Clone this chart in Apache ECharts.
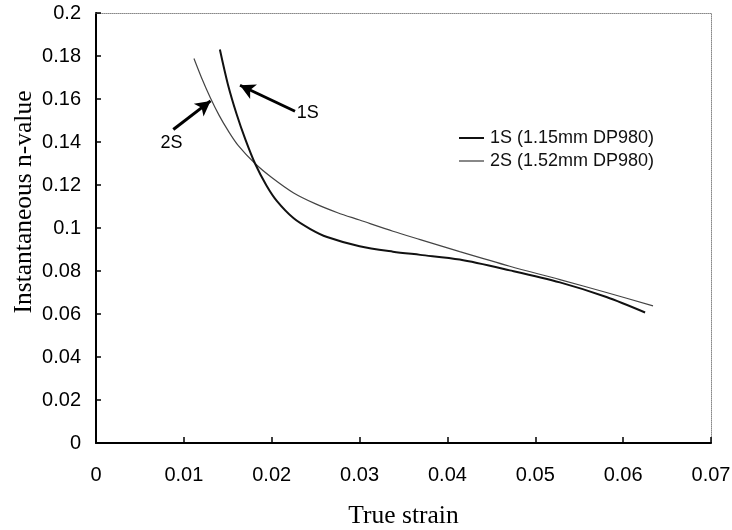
<!DOCTYPE html>
<html><head><meta charset="utf-8">
<script src="https://cdn.jsdelivr.net/npm/echarts@6/dist/echarts.min.js"></script>
<style>html,body{margin:0;padding:0;background:#fff}#c{width:732px;height:530px}</style>
</head><body><div id="c"></div>
<script>
const xTicks = [0, 0.01, 0.02, 0.03, 0.04, 0.05, 0.06, 0.07];
const yTicks = [0, 0.02, 0.04, 0.06, 0.08, 0.1, 0.12, 0.14, 0.16, 0.18, 0.2];
const xTitle = 'True strain';
const yTitle = 'Instantaneous n-value';
const name1S = "1S (1.15mm DP980)";
const name2S = "2S (1.52mm DP980)";
const strain1S = [0.0141, 0.0150, 0.0160, 0.0170, 0.0181, 0.0194, 0.0206, 0.0225, 0.0244, 0.0263, 0.0300, 0.0338, 0.0369, 0.0414, 0.0471, 0.0528, 0.0581, 0.0625];
const n1S      = [0.183,  0.167,  0.153,  0.1412, 0.1300, 0.1198, 0.1125, 0.1045, 0.0995, 0.0958, 0.0915, 0.0890, 0.0875, 0.0853, 0.0803, 0.0747, 0.0679, 0.0607];
const strain2S = [0.01115, 0.0120, 0.0130, 0.0140, 0.0150, 0.0162, 0.0181, 0.0200, 0.0225, 0.0250, 0.0275, 0.0300, 0.0338, 0.0369, 0.0414, 0.0471, 0.0528, 0.0581, 0.0634];
const n2S      = [0.1788,  0.1700, 0.1607, 0.1525, 0.1455, 0.1383, 0.1300, 0.1235, 0.1163, 0.1112, 0.1071, 0.1037, 0.0985, 0.0946, 0.0890, 0.0822, 0.0760, 0.0700, 0.0638];
// annotation arrows (data coordinates): [tailX, tailY, headX, headY]
const arrow1S = [0.02265, 0.1543, 0.01639, 0.1664];
const arrow2S = [0.0088, 0.1458, 0.01304, 0.1591];
const label1S = [0.0241, 0.1533];
const label2S = [0.0086, 0.1393];

const zip = (a, b) => a.map((v, i) => [v, b[i]]);
const fmt = v => String(+v.toFixed(4));
const sans = 'Liberation Sans, Arial, sans-serif';
const serif = 'Liberation Serif, Times New Roman, serif';

function arrowLine(a) {
  return {
    silent: true,
    symbol: ['none', 'arrow'],
    symbolSize: [12, 15],
    lineStyle: { color: '#000', width: 3, type: 'solid' },
    label: { show: false },
    emphasis: { disabled: true },
    data: [[{ coord: [a[0], a[1]] }, { coord: [a[2], a[3]] }]]
  };
}
function textPoint(p, t) {
  return {
    silent: true,
    symbol: 'circle', symbolSize: 0,
    label: { show: true, position: 'inside', formatter: t, color: '#000', fontFamily: sans, fontSize: 18 },
    data: [{ coord: p }]
  };
}

const chart = echarts.init(document.getElementById('c'), null, { renderer: 'canvas' });
chart.setOption({
  animation: false,
  backgroundColor: '#fff',
  grid: { left: 96, right: 21, top: 13, bottom: 87, containLabel: false, outerBoundsMode: 'none' },
  legend: {
    orient: 'vertical', left: 459, top: 129, padding: 0, itemGap: 5,
    itemWidth: 25, itemHeight: 2,
    textStyle: { fontFamily: sans, fontSize: 18, color: '#111', padding: [0, 0, 0, 1] },
    data: [
      { name: name1S, icon: 'rect', itemStyle: { color: '#111' } },
      { name: name2S, icon: 'rect', itemStyle: { color: '#888' } }
    ]
  },
  graphic: [{
    type: 'text', x: 24, y: 202, rotation: Math.PI / 2, silent: true,
    style: { text: yTitle, fontFamily: serif, fontSize: 25.5, fill: '#000', align: 'center', verticalAlign: 'middle' }
  }],
  xAxis: [{
    type: 'value', min: 0, max: 0.07, interval: 0.01,
    name: xTitle, nameLocation: 'middle', nameGap: 60,
    nameTextStyle: { fontFamily: serif, fontSize: 25.5, color: '#000' },
    axisLine: { show: true, onZero: false, lineStyle: { color: '#000', width: 2 } },
    axisTick: { show: true, inside: true, length: 6, lineStyle: { color: '#000', width: 1.5 } },
    axisLabel: { margin: 22, fontFamily: sans, fontSize: 20, color: '#000', formatter: fmt },
    splitLine: { show: false }
  }, {
    type: 'value', min: 0, max: 0.07, position: 'top',
    axisLine: { show: true, onZero: false, lineStyle: { color: '#888', width: 1, type: 'dotted' } },
    axisTick: { show: false }, axisLabel: { show: false }, splitLine: { show: false }
  }],
  yAxis: [{
    type: 'value', min: 0, max: 0.2, interval: 0.02,
    axisLine: { show: true, onZero: false, lineStyle: { color: '#000', width: 2 } },
    axisTick: { show: true, inside: true, length: 5, lineStyle: { color: '#000', width: 1.5 } },
    axisLabel: { margin: 15, fontFamily: sans, fontSize: 20, color: '#000', formatter: fmt },
    splitLine: { show: false }
  }, {
    type: 'value', min: 0, max: 0.2, position: 'right',
    axisLine: { show: true, onZero: false, lineStyle: { color: '#888', width: 1, type: 'dotted' } },
    axisTick: { show: false }, axisLabel: { show: false }, splitLine: { show: false }
  }],
  series: [{
    name: name1S, type: 'line', data: zip(strain1S, n1S), smooth: 0.3,
    symbol: 'none', lineStyle: { color: '#111', width: 2 }, itemStyle: { color: '#111' },
    markLine: arrowLine(arrow1S), markPoint: textPoint(label1S, '1S'), z: 3
  }, {
    name: name2S, type: 'line', data: zip(strain2S, n2S), smooth: 0.3,
    symbol: 'none', lineStyle: { color: '#444', width: 1.2 }, itemStyle: { color: '#666' },
    markLine: arrowLine(arrow2S), markPoint: textPoint(label2S, '2S'), z: 2
  }]
});
</script></body></html>
